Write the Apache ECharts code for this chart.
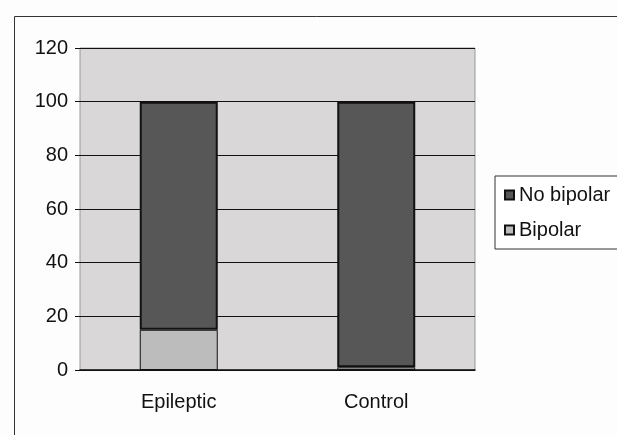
<!DOCTYPE html>
<html>
<head>
<meta charset="utf-8">
<script src="https://cdn.jsdelivr.net/npm/echarts@6/dist/echarts.min.js"></script>
<style>html,body{margin:0;padding:0;background:#fff;}#c{width:617px;height:435px;}</style>
</head>
<body>
<div id="c"></div>
<script>
var categories = ['Epileptic', 'Control'];
var bipolar = [15, 1];
var noBipolar = [85, 99];
var yTicks = [0, 20, 40, 60, 80, 100, 120];

var chart = echarts.init(document.getElementById('c'), null, {renderer: 'canvas'});
chart.setOption({
  animation: false,
  backgroundColor: '#fdfdfd',
  graphic: [{
    type: 'rect', left: 12, top: 14, shape: {width: 700, height: 500},
    style: {fill: 'none', stroke: '#333', lineWidth: 1}, silent: true, z: -10
  }],
  grid: {left: 80, right: 142, top: 48, bottom: 65, show: true,
    backgroundColor: '#d9d7d8', borderColor: '#999', borderWidth: 1},
  legend: {
    orient: 'vertical', left: 495, top: 176,
    data: ['No bipolar', 'Bipolar'],
    itemWidth: 9, itemHeight: 9, itemGap: 15,
    padding: [9, 30, 9, 9],
    borderColor: '#333', borderWidth: 1, backgroundColor: '#fff',
    icon: 'rect',
    textStyle: {fontFamily: 'Liberation Sans, Arial', fontSize: 20, color: '#111'}
  },
  xAxis: {
    type: 'category', data: categories,
    axisTick: {show: false},
    axisLine: {lineStyle: {color: '#111', width: 1.5}},
    axisLabel: {fontFamily: 'Liberation Sans, Arial', fontSize: 20, color: '#111', margin: 22}
  },
  yAxis: {
    type: 'value', min: yTicks[0], max: yTicks[yTicks.length - 1], interval: 20,
    axisLine: {show: false},
    axisTick: {show: true, length: 5, lineStyle: {color: '#111'}},
    splitLine: {lineStyle: {color: '#111', width: 1}},
    axisLabel: {fontFamily: 'Liberation Sans, Arial', fontSize: 20, color: '#111', margin: 12}
  },
  series: [
    {name: 'Bipolar', type: 'bar', stack: 'a', data: bipolar, barWidth: 78,
      itemStyle: {color: '#bcbcbc', borderColor: '#111', borderWidth: 1}},
    {name: 'No bipolar', type: 'bar', stack: 'a', data: noBipolar, barWidth: 78,
      itemStyle: {color: '#575757', borderColor: '#111', borderWidth: 2}}
  ]
});
</script>
</body>
</html>
